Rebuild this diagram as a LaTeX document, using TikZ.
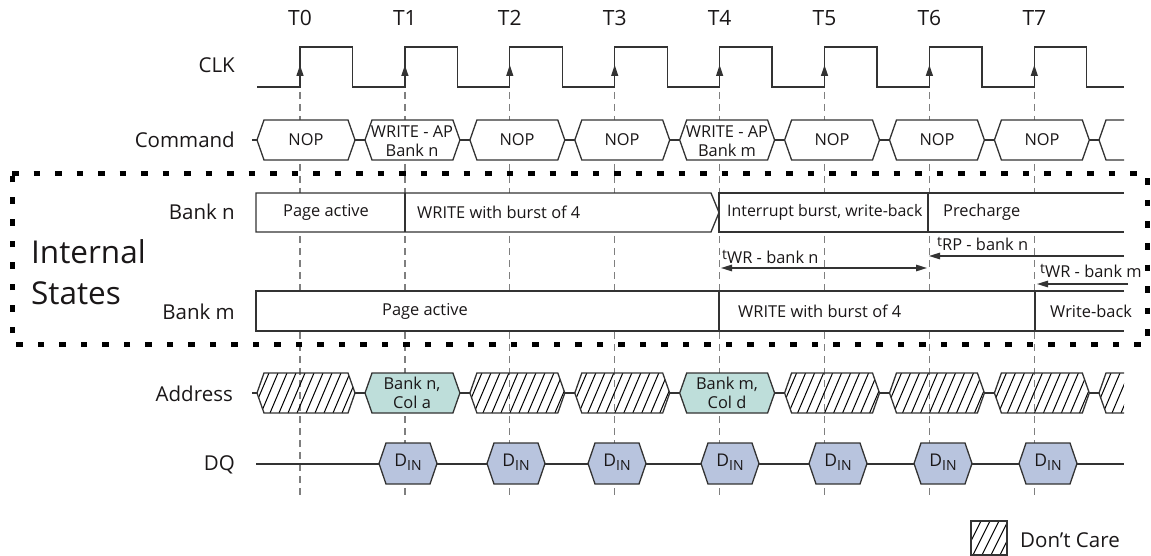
\documentclass[tikz,border=0pt]{standalone}
\usepackage{fontspec}
\setmainfont{Open Sans}
\usetikzlibrary{arrows.meta}
\definecolor{sigc}{HTML}{333333}
\definecolor{txtc}{HTML}{1A1718}
\definecolor{gridc}{HTML}{7F7F7F}
\definecolor{addrc}{HTML}{BEDEDA}
\definecolor{dinc}{HTML}{B8C4DE}

% hexagon between crossing #1 and crossing #2, top #3, bottom #4, fill #5
\newcommand{\hexbox}[5]{%
  \filldraw[sig,fill=#5] ({#1+5},{(#3+#4)/2}) -- ({#1+12},#3) -- ({#2-12},#3) -- ({#2-5},{(#3+#4)/2}) -- ({#2-12},#4) -- ({#1+12},#4) -- cycle;}
% hatched (don't care) hexagon
\newcommand{\hatchbox}[4]{%
  \begin{scope}
    \clip ({#1+5},{(#3+#4)/2}) -- ({#1+12},#3) -- ({#2-12},#3) -- ({#2-5},{(#3+#4)/2}) -- ({#2-12},#4) -- ({#1+12},#4) -- cycle;
    \foreach \k in {0,...,15} {\pgfmathsetmacro\hx{#1-18+9*\k}
      \draw[hatch] (\hx,#4) -- ({\hx+17},#3);}
  \end{scope}
  \draw[sig] ({#1+5},{(#3+#4)/2}) -- ({#1+12},#3) -- ({#2-12},#3) -- ({#2-5},{(#3+#4)/2}) -- ({#2-12},#4) -- ({#1+12},#4) -- cycle;}
% crossing connector at #1, mid y #2
\newcommand{\cross}[2]{\draw[sig] ({#1-5},#2) -- ({#1+5},#2);}

\begin{document}
\begin{tikzpicture}[x=1pt,y=-1pt,
  sig/.style={line width=1.3pt, draw=sigc, line join=miter},
  hatch/.style={line width=1pt, draw=black},
  gridline/.style={line width=1.3pt, draw=gridc, dash pattern=on 7pt off 5pt},
  lbl/.style={font=\fontsize{20.5}{23}\selectfont, inner sep=0pt, text=txtc},
  tlbl/.style={font=\fontsize{21}{23}\selectfont, inner sep=0pt, text=txtc},
  txt/.style={font=\fontsize{16.4}{19}\selectfont, inner sep=0pt, text=txtc},
  twoline/.style={font=\fontsize{16.4}{19.5}\selectfont, inner sep=0pt, text=txtc, align=center},
  big/.style={font=\fontsize{31.5}{36}\selectfont, inner sep=0pt, text=txtc},
  tarrow/.style={sig, line width=1.4pt, -{Triangle[length=11pt,width=6.5pt]}},
  clkarrow/.style={sig, -{Triangle[length=11pt,width=7pt]}},
]
\useasboundingbox (0,0) rectangle (1151,556);

% ---------- vertical time grid ----------
\foreach \i in {0,...,7}{
  \pgfmathsetmacro\T{300+104.9*\i}
  \draw[gridline] (\T,92) -- (\T,497);
  \node[tlbl] (t\i) at (\T,18) {T\i};
}

% ---------- row labels ----------
\node[lbl, anchor=east] (lclk) at (235,65) {CLK};
\node[lbl, anchor=east] (lcmd) at (235,140) {Command};
\node[lbl, anchor=east] (lbn) at (235,212) {Bank n};
\node[lbl, anchor=east] (lbm) at (235,312) {Bank m};
\node[lbl, anchor=east] (ladr) at (233,394) {Address};
\node[lbl, anchor=east] (ldq) at (235,465) {DQ};
\node[big, anchor=west] (lint) at (31,252) {Internal};
\node[big, anchor=west] (lsta) at (31,293) {States};

% ---------- CLK ----------
\draw[sig] (257,87) \foreach \i in {0,...,7}{ -- ({300+104.9*\i},87) -- ({300+104.9*\i},47) -- ({352.5+104.9*\i},47) -- ({352.5+104.9*\i},87)} -- (1124,87);
\foreach \i in {0,...,7}{
  \draw[clkarrow] ({300+104.9*\i},80) -- ({300+104.9*\i},65);
}

% ---------- Command ----------
\draw[sig] (252,140) -- (257,140);
\foreach \i in {0,...,7}{
  \pgfmathsetmacro\xa{\i==0 ? 252 : 300+104.9*(\i-1)+60}
  \pgfmathsetmacro\xb{300+104.9*\i+60}
  \hexbox{\xa}{\xb}{120}{160}{white}
  \cross{\xb}{140}
}
\filldraw[sig,fill=white] (1124,120) -- (1106,120) -- (1099,140) -- (1106,160) -- (1124,160);
\node[txt] (c0) at (306,140) {NOP};
\node[twoline] (c1) at (412,141) {WRITE - AP\\Bank n};
\node[txt] (c2) at (517,140) {NOP};
\node[txt] (c3) at (622,140) {NOP};
\node[twoline] (c4) at (727,141) {WRITE - AP\\Bank m};
\node[txt] (c5) at (832,140) {NOP};
\node[txt] (c6) at (937,140) {NOP};
\node[txt] (c7) at (1042,140) {NOP};

% ---------- Bank n ----------
\fill[white] (256,193) rectangle (1124,232);
\draw[sig] (256,193) -- (711,193) -- (719,212.5) -- (711,232) -- (256,232) -- cycle;
\draw[sig] (405,193) -- (405,232);
\draw[sig] (1124,193) -- (719,193) -- (719,232) -- (1124,232);
\draw[sig] (928,193) -- (928,232);
\node[txt, anchor=west] (bn1) at (283,212.5) {Page active};
\node[txt, anchor=west] (bn2) at (417,212.5) {WRITE with burst of 4};
\node[txt, anchor=west, font=\fontsize{15.9}{19}\selectfont] (bn3) at (727,212.5) {Interrupt burst, write-back};
\node[txt, anchor=west] (bn4) at (943,212.5) {Precharge};

% ---------- timing arrows ----------
\coordinate (wrnA) at (721,268);
\coordinate (wrnB) at (927,268);
\draw[sig, line width=1.4pt, {Triangle[length=11pt,width=6.5pt]}-{Triangle[length=11pt,width=6.5pt]}] (wrnA) -- (wrnB);
\node[txt, anchor=base west] (twrn) at (722,263) {\raisebox{4pt}{\fontsize{14}{14}\selectfont t}WR - bank n};
\coordinate (rpA) at (929,256);
\coordinate (rpB) at (1124,256);
\draw[tarrow] (rpB) -- (rpA);
\node[txt, anchor=base west] (trpn) at (937,251) {\raisebox{4pt}{\fontsize{14}{14}\selectfont t}RP - bank n};
\coordinate (wrmA) at (1037,284);
\coordinate (wrmB) at (1128,284);
\draw[tarrow] (wrmB) -- (wrmA);
\node[txt, anchor=base west] (twrm) at (1040,277) {\raisebox{4pt}{\fontsize{14}{14}\selectfont t}WR - bank m};

% ---------- Bank m ----------
\filldraw[sig, fill=white] (1124,291) -- (256,291) -- (256,331) -- (1124,331);
\draw[sig] (719,291) -- (719,331);
\draw[sig] (1035,291) -- (1035,331);
\node[txt] (bm1) at (425,311) {Page active};
\node[txt, anchor=west] (bm2) at (738,311) {WRITE with burst of 4};
\node[txt, anchor=west] (bm3) at (1050,311) {Write-back};

% ---------- Internal States border ----------
\draw[line width=5pt, dash pattern=on 6.5pt off 15pt] (12,174) -- (1147,174) -- (1147,344) -- (12,344) -- cycle;

% ---------- Address ----------
\draw[sig] (252,393) -- (257,393);
\foreach \i in {0,...,7}{
  \pgfmathsetmacro\xa{\i==0 ? 252 : 300+104.9*(\i-1)+60}
  \pgfmathsetmacro\xb{300+104.9*\i+60}
  \ifnum\i=1 \hexbox{\xa}{\xb}{373}{413}{addrc}
  \else\ifnum\i=4 \hexbox{\xa}{\xb}{373}{413}{addrc}
  \else \hatchbox{\xa}{\xb}{373}{413}\fi\fi
  \cross{\xb}{393}
}
\begin{scope}
  \clip (1099,393) -- (1106,373) -- (1124,373) -- (1124,413) -- (1106,413) -- cycle;
  \foreach \k in {0,...,5} {\pgfmathsetmacro\hx{1085+9*\k}
    \draw[hatch] (\hx,413) -- ({\hx+17},373);}
\end{scope}
\draw[sig] (1124,373) -- (1106,373) -- (1099,393) -- (1106,413) -- (1124,413);
\node[twoline] (a1) at (412,393) {Bank n,\\Col a};
\node[twoline] (a4) at (727,393) {Bank m,\\Col d};

% ---------- DQ ----------
\draw[sig] (256,464) -- (1124,464);
\foreach \c [count=\j] in {408,516,617,730,838,943,1048}{
  \filldraw[sig, fill=dinc] ({\c-29},463.5) -- ({\c-22},443) -- ({\c+22},443) -- ({\c+29},463.5) -- ({\c+22},484) -- ({\c-22},484) -- cycle;
  \node[txt, font=\fontsize{17.5}{19}\selectfont] (d\j) at (\c,462) {D\raisebox{-4pt}{\fontsize{14}{14}\selectfont IN}};
}

% ---------- legend ----------
\begin{scope}
  \clip (971,521) rectangle (1007,555);
  \foreach \k in {0,...,6} {\pgfmathsetmacro\hx{955+9*\k}
    \draw[hatch] (\hx,555) -- ({\hx+17},521);}
\end{scope}
\draw[sig] (971,521) rectangle (1007,555);
\node[lbl, anchor=west] (leg) at (1020,540) {Don’t Care};
\end{tikzpicture}
\end{document}
